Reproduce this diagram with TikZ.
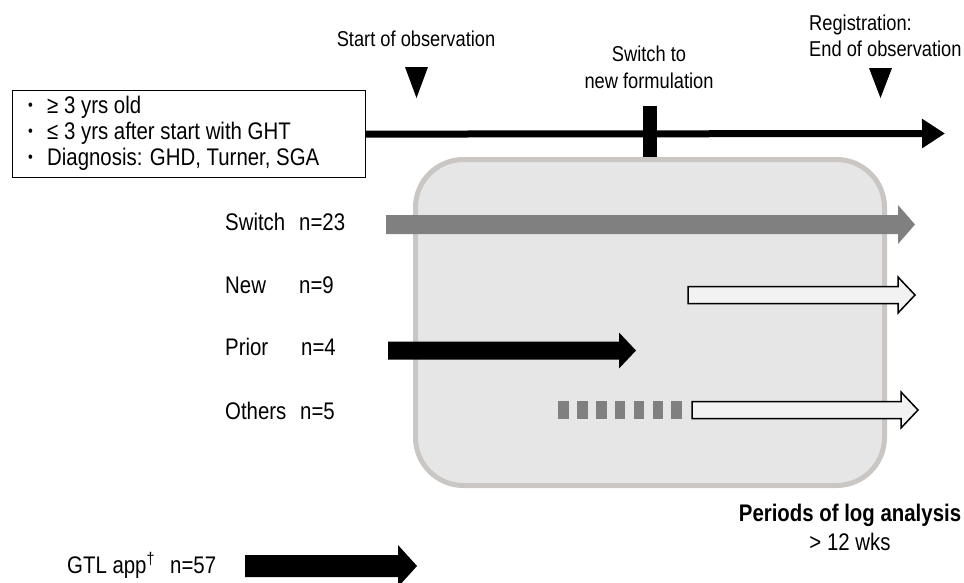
\documentclass[tikz,border=0pt]{standalone}
\usepackage{fontspec}
\setmainfont{Liberation Sans}[FakeStretch=0.85]
\usetikzlibrary{arrows.meta}

\definecolor{panelfill}{HTML}{E6E6E6}
\definecolor{panelrim}{HTML}{C9C6C3}
\definecolor{bargray}{HTML}{808080}
\definecolor{hollow}{HTML}{F2F2F2}

% block arrow: #1 style, #2 start x, #3 tip x, #4 centre y,
% #5 half shaft height, #6 half head height, #7 head length
\newcommand\fatarrow[7]{%
  \path[#1] (#2,#4-#5) -- (#3-#7,#4-#5) -- (#3-#7,#4-#6) -- (#3,#4)
    -- (#3-#7,#4+#6) -- (#3-#7,#4+#5) -- (#2,#4+#5) -- cycle;}

% bullet sitting on the cap-height midline
\newcommand\itembullet{\raisebox{2.5pt}{\fontsize{16}{16}\selectfont•}}

\begin{document}
\begin{tikzpicture}[x=1pt,y=-1pt,
  txt/.style={inner sep=0pt, font=\fontsize{24}{28}\selectfont},
  toptxt/.style={inner sep=0pt, font=\fontsize{21.5}{26}\selectfont},
  boldtxt/.style={inner sep=0pt, font=\fontsize{24}{28}\selectfont\bfseries},
  marker/.style={fill=black},
  timeline/.style={line width=7pt, -{Triangle[length=23pt,width=28pt]}},
]
\useasboundingbox (0,0) rectangle (964,582);

% analysis window
\draw[panelrim, fill=panelfill, line width=5pt, rounded corners=48pt]
  (415.5,159.5) rectangle (884.5,485.5);

% inclusion criteria
\node[draw, line width=1.2pt, minimum width=353pt, minimum height=87pt,
      anchor=north west, inner sep=0pt] (crit) at (12,90) {};
\node[txt, anchor=base west] (b1) at (28,113) {\itembullet};
\node[txt, anchor=base west] (c1) at (47,113) {≥ 3 yrs old};
\node[txt, anchor=base west] (b2) at (28,139) {\itembullet};
\node[txt, anchor=base west] (c2) at (47,139) {≤ 3 yrs after start with GHT};
\node[txt, anchor=base west] (b3) at (28,165) {\itembullet};
\node[txt, anchor=base west] (c3) at (47,165) {Diagnosis: GHD, Turner, SGA};

% time axis
\coordinate (axisend) at (945,133.5);
\draw[timeline] (crit.east) -- (axisend);

% start of observation
\node[toptxt, anchor=base] (startlbl) at (416,46) {Start of observation};
\fill[marker] (405,67) -- (428,67) -- (416.5,98) -- cycle;

% switch to new formulation
\node[toptxt, anchor=base] (swl1) at (649,61) {Switch to};
\node[toptxt, anchor=base] (swl2) at (649,88) {new formulation};
\fill[marker] (643,106) rectangle (657,157);

% registration
\node[toptxt, anchor=base west] (reg1) at (809,30) {Registration:};
\node[toptxt, anchor=base west] (reg2) at (809,56) {End of observation};
\fill[marker] (869,68) -- (892,68) -- (880.5,98) -- cycle;

% groups
\node[txt, anchor=base west] (g1) at (225,230.5) {Switch};
\node[txt, anchor=base west] (n1) at (299,230.5) {n=23};
\node[txt, anchor=base west] (g2) at (225,293.5) {New};
\node[txt, anchor=base west] (n2) at (299,293.5) {n=9};
\node[txt, anchor=base west] (g3) at (225,355.5) {Prior};
\node[txt, anchor=base west] (n3) at (301,355.5) {n=4};
\node[txt, anchor=base west] (g4) at (225,419.5) {Others};
\node[txt, anchor=base west] (n4) at (300,419.5) {n=5};

\fatarrow{fill=bargray}{386}{915}{224.5}{9.5}{19.5}{17}
\fatarrow{fill=hollow, draw=black, line width=1.5pt}{688}{915}{295}{8.5}{18}{17}
\fatarrow{fill=black}{388}{636}{350.5}{9}{18}{17}
\foreach \k in {0,...,6}
  \fill[bargray] (558+\k*18.9,401) rectangle (568.7+\k*18.9,419);
\fatarrow{fill=hollow, draw=black, line width=1.5pt}{692}{918}{410}{8.5}{18}{17}

% log analysis period
\node[boldtxt, anchor=base] (per1) at (850,521.5) {Periods of log analysis};
\node[txt, anchor=base] (per2) at (850,550.5) {> 12 wks};

% app users
\node[txt, anchor=base west] (gtl) at (67,573.5) {GTL app\textsuperscript{†}};
\node[txt, anchor=base west] (gtln) at (170,573.5) {n=57};
\fatarrow{fill=black}{245}{417}{566}{11}{21}{19}
\end{tikzpicture}
\end{document}
